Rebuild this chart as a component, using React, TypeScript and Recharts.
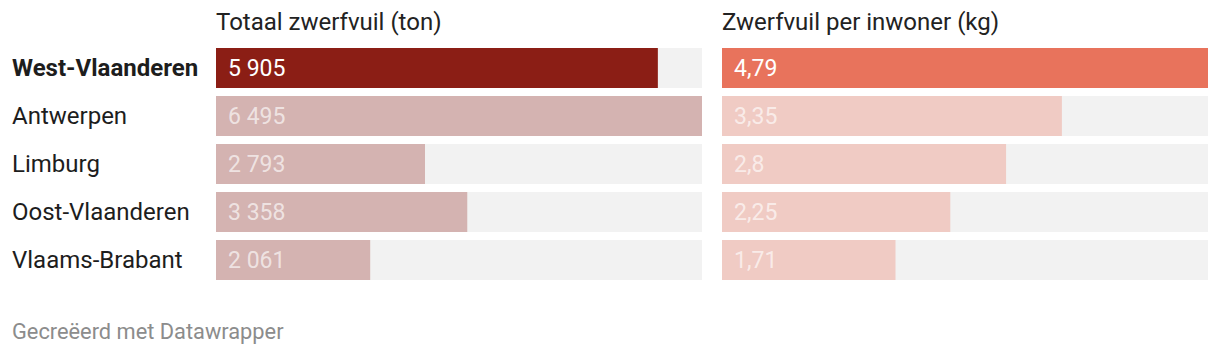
import React from 'react';
import { BarChart, Bar, XAxis, YAxis, Cell, LabelList } from 'recharts';

const provinces = ['West-Vlaanderen', 'Antwerpen', 'Limburg', 'Oost-Vlaanderen', 'Vlaams-Brabant'];
const totalTon = [5905, 6495, 2793, 3358, 2061];
const perInhabitantKg = [4.79, 3.35, 2.8, 2.25, 1.71];

const highlight = 'West-Vlaanderen';
const font = 'Roboto, "Noto Sans", sans-serif';

const totalData = provinces.map((name, i) => ({ name, value: totalTon[i] }));
const perData = provinces.map((name, i) => ({ name, value: perInhabitantKg[i] }));

// Datawrapper style number formats (nl-BE)
const fmtThousands = (v: number) => String(v).replace(/\B(?=(\d{3})+(?!\d))/g, ' ');
const fmtDecimal = (v: number) => String(v).replace('.', ',');

const ProvinceTick = (props: any) => {
  const { y, payload } = props;
  const bold = payload.value === highlight;
  return (
    <text
      x={12}
      y={y}
      dy="0.35em"
      textAnchor="start"
      fontFamily={font}
      fontSize={24}
      fontWeight={bold ? 700 : 400}
      fill="#1d1d1d"
    >
      {payload.value}
    </text>
  );
};

const valueLabel = (format: (v: number) => string) => (p: any) => (
  <text
    x={p.x + 12}
    y={p.y + p.height / 2}
    dy="0.35em"
    fontFamily={font}
    fontSize={23}
    fill="#fff"
    fillOpacity={p.index === 0 ? 1 : 0.65}
  >
    {format(p.value)}
  </text>
);

const titleStyle: React.CSSProperties = {
  position: 'absolute',
  top: 8,
  fontFamily: font,
  fontSize: 24,
  color: '#222',
  lineHeight: '28px',
};

export default function App() {
  return (
    <div style={{ position: 'absolute', left: 0, top: 0, width: 1220, height: 356, background: '#fff' }}>
      <div style={{ ...titleStyle, left: 216 }}>Totaal zwerfvuil (ton)</div>
      <div style={{ ...titleStyle, left: 722 }}>Zwerfvuil per inwoner (kg)</div>

      <div style={{ position: 'absolute', left: 0, top: 0 }}>
        <BarChart
          width={702}
          height={300}
          data={totalData}
          layout="vertical"
          margin={{ top: 44, right: 0, bottom: 16, left: 0 }}
          barCategoryGap={8}
        >
          <XAxis type="number" hide domain={[0, 6495]} />
          <YAxis
            type="category"
            dataKey="name"
            width={216}
            axisLine={false}
            tickLine={false}
            tick={<ProvinceTick />}
          />
          <Bar dataKey="value" barSize={40} background={{ fill: '#f2f2f2' }} isAnimationActive={false}>
            {totalData.map((d) => (
              <Cell key={d.name} fill={d.name === highlight ? '#8b1e15' : '#d4b3b1'} />
            ))}
            <LabelList dataKey="value" content={valueLabel(fmtThousands)} />
          </Bar>
        </BarChart>
      </div>

      <div style={{ position: 'absolute', left: 722, top: 0 }}>
        <BarChart
          width={486}
          height={300}
          data={perData}
          layout="vertical"
          margin={{ top: 44, right: 0, bottom: 16, left: 0 }}
          barCategoryGap={8}
        >
          <XAxis type="number" hide domain={[0, 4.79]} />
          <YAxis type="category" dataKey="name" hide width={0} />
          <Bar dataKey="value" barSize={40} background={{ fill: '#f2f2f2' }} isAnimationActive={false}>
            {perData.map((d) => (
              <Cell key={d.name} fill={d.name === highlight ? '#e8735c' : '#f0cbc4'} />
            ))}
            <LabelList dataKey="value" content={valueLabel(fmtDecimal)} />
          </Bar>
        </BarChart>
      </div>

      <div
        style={{
          position: 'absolute',
          left: 12,
          top: 319,
          fontFamily: font,
          fontSize: 21.8,
          color: '#8c8c8c',
          lineHeight: '26px',
        }}
      >
        Gecreëerd met Datawrapper
      </div>
    </div>
  );
}
